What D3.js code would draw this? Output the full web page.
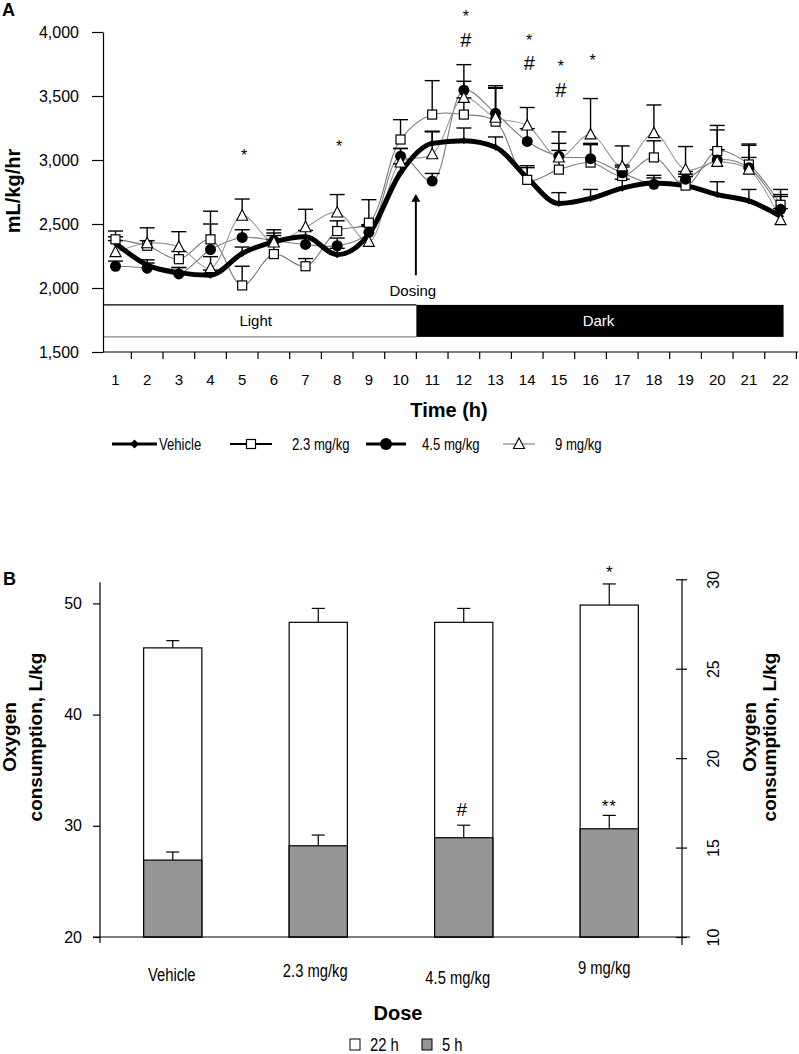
<!DOCTYPE html>
<html><head><meta charset="utf-8">
<script src="https://cdn.jsdelivr.net/npm/d3@7"></script>
<style>body{margin:0;background:#fff}svg{display:block}</style>
</head><body>
<script>
// ---------- Panel A data ----------
const hours = [1,2,3,4,5,6,7,8,9,10,11,12,13,14,15,16,17,18,19,20,21,22];
const vehicle    = [2350,2180,2120,2100,2270,2360,2400,2260,2420,2900,3130,3150,3100,2860,2660,2700,2780,2820,2800,2730,2680,2560];
const vehicleSem = [50,40,40,40,50,50,50,50,60,70,90,100,80,80,85,70,70,60,70,100,90,60];
const dose23     = [2380,2330,2225,2380,2020,2265,2170,2445,2510,3160,3355,3355,3300,2845,2925,2980,2875,3020,2800,3070,2965,2650];
const dose23Sem  = [65,40,60,220,150,110,60,80,180,155,265,130,260,110,150,150,70,130,90,200,150,120];
const dose45     = [2170,2155,2110,2300,2395,2370,2340,2330,2435,3030,2835,3545,3365,3145,3030,3010,2900,2810,2850,3000,2940,2615];
const dose45Sem  = [40,40,50,200,60,60,60,60,60,60,60,200,200,100,100,110,60,50,60,80,80,100];
const dose9      = [2280,2350,2320,2155,2565,2355,2475,2590,2360,2980,3045,3485,3330,3270,3020,3200,2950,3210,2925,2985,2925,2530];
const dose9Sem   = [90,120,120,90,130,100,140,140,130,110,180,130,250,140,200,280,160,220,180,250,200,200];
const yTicksA = [1500,2000,2500,3000,3500,4000];
const seriesNamesA = ["Vehicle","2.3 mg/kg","4.5 mg/kg","9 mg/kg"];
const annoHours = [5,8,12,12,14,14,15,15,16];
const annoText  = ["*","*","*","#","*","#","*","#","*"];
const annoLevel = [3065,3135,4148,3937,3961,3758,3758,3547,3805];

// ---------- Panel B data ----------
const doses = ["Vehicle","2.3 mg/kg","4.5 mg/kg","9 mg/kg"];
const total22h    = [46.0,48.3,48.3,49.85];
const total22hSem = [0.65,1.25,1.25,1.9];
const early5h     = [14.3,15.1,15.55,16.05];
const early5hSem  = [0.45,0.6,0.7,0.75];
const yTicksBLeft  = [20,30,40,50];
const yTicksBRight = [10,15,20,25,30];
const legendB = ["22 h","5 h"];

const W = 799, H = 1054;
const FONT = "'Liberation Sans', Arial, Helvetica, sans-serif";
const svg = d3.select("body").append("svg").attr("width", W).attr("height", H)
  .style("font-family", FONT);

// condense text like Arial Narrow
function narrow(sel, f = 0.82) {
  sel.each(function() {
    const len = this.getComputedTextLength();
    d3.select(this).attr("textLength", len * f).attr("lengthAdjust", "spacingAndGlyphs");
  });
}

// ================= PANEL A =================
const step = 31.67;
const xA = d3.scaleBand().domain(hours).range([115.5 - step/2, 115.5 + 21*step + step/2]).padding(0);
const xc = h => xA(h) + xA.bandwidth()/2;
const yA = d3.scaleLinear().domain([1500,4000]).range([352,32]);

svg.append("text").attr("x",2).attr("y",16).attr("font-weight","bold").attr("font-size",18).text("A");

// Light / Dark bars
const barTop = yA(1868), barBot = yA(1618);
const boundary = xA(11);
svg.append("rect").attr("x",103).attr("y",barTop).attr("width",boundary-103).attr("height",barBot-barTop)
  .attr("fill","#fff");
svg.append("line").attr("x1",103).attr("x2",boundary).attr("y1",barTop).attr("y2",barTop).attr("stroke","#000").attr("stroke-width",1.2);
svg.append("line").attr("x1",103).attr("x2",boundary).attr("y1",barBot).attr("y2",barBot).attr("stroke","#888").attr("stroke-width",1.2);
svg.append("rect").attr("x",boundary).attr("y",barTop).attr("width",xc(22)+3-boundary).attr("height",barBot-barTop)
  .attr("fill","#000");
svg.append("text").attr("x",(103+boundary)/2-4).attr("y",(barTop+barBot)/2+5).attr("text-anchor","middle")
  .attr("font-size",15).text("Light");
svg.append("text").attr("x",(boundary+xc(22))/2).attr("y",(barTop+barBot)/2+5).attr("text-anchor","middle")
  .attr("font-size",15).attr("fill","#fff").text("Dark");

// y axis
const gyA = svg.append("g").attr("transform","translate(103,0)")
  .call(d3.axisLeft(yA).tickValues(yTicksA).tickFormat(d3.format(",")).tickSize(11).tickPadding(13).tickSizeOuter(0));
gyA.selectAll("text").attr("font-size",16).attr("font-family",FONT).attr("fill","#000");
gyA.selectAll("line,path").attr("stroke","#000").attr("stroke-width",1.2);

// x axis
svg.append("line").attr("x1",103).attr("x2",798).attr("y1",352).attr("y2",352).attr("stroke","#000").attr("stroke-width",1.2);
svg.append("g").selectAll("line").data(hours).join("line")
  .attr("x1",h=>xA(h)+xA.bandwidth()).attr("x2",h=>xA(h)+xA.bandwidth())
  .attr("y1",352).attr("y2",359).attr("stroke","#000").attr("stroke-width",1.2);
const gxA = svg.append("g").attr("transform","translate(0,352)")
  .call(d3.axisBottom(xA).tickSize(0).tickPadding(22));
gxA.select(".domain").remove();
gxA.selectAll("text").attr("font-size",15).attr("font-family",FONT).attr("fill","#000");

svg.append("text").attr("x",449).attr("y",417).attr("text-anchor","middle").attr("font-weight","bold")
  .attr("font-size",20).text("Time (h)");
svg.append("text").attr("transform","translate(20,191) rotate(-90)").attr("text-anchor","middle")
  .attr("font-weight","bold").attr("font-size",20).text("mL/kg/hr");

// Dosing arrow
const ax = boundary - 0.5;
svg.append("line").attr("x1",ax).attr("x2",ax).attr("y1",yA(2100)).attr("y2",yA(2690)).attr("stroke","#000").attr("stroke-width",2);
svg.append("path").attr("d",`M${ax-4.5},${yA(2690)+2}L${ax},${yA(2735)}L${ax+4.5},${yA(2690)+2}Z`).attr("fill","#000");
svg.append("text").attr("x",ax-3).attr("y",yA(1935)).attr("text-anchor","middle").attr("font-size",15).text("Dosing");

// series
const series = [
  {name:seriesNamesA[0], v:vehicle, s:vehicleSem, stroke:"#000", sw:5, marker:"diamond", curve:d3.curveMonotoneX},
  {name:seriesNamesA[1], v:dose23, s:dose23Sem, stroke:"#7a7a7a", sw:1.1, marker:"square", curve:d3.curveCatmullRom.alpha(0.5)},
  {name:seriesNamesA[2], v:dose45, s:dose45Sem, stroke:"#7a7a7a", sw:1.1, marker:"circle", curve:d3.curveCatmullRom.alpha(0.5)},
  {name:seriesNamesA[3], v:dose9, s:dose9Sem, stroke:"#9a9a9a", sw:1.1, marker:"triangle", curve:d3.curveCatmullRom.alpha(0.5)}
];
const lineGen = (vals, curve) => d3.line().x((d,i)=>xc(hours[i])).y(d=>yA(d)).curve(curve)(vals);

function drawMarker(g, type, x, y, legend) {
  if (type==="diamond") {
    const r = legend?4.5:3.5;
    g.append("path").attr("d",`M${x},${y-r}L${x+r},${y}L${x},${y+r}L${x-r},${y}Z`).attr("fill","#000");
  } else if (type==="square") {
    g.append("rect").attr("x",x-4.5).attr("y",y-4.5).attr("width",9).attr("height",9)
      .attr("fill","#fff").attr("stroke","#000").attr("stroke-width",1.2);
  } else if (type==="circle") {
    g.append("circle").attr("cx",x).attr("cy",y).attr("r",legend?6:5.5).attr("fill","#000");
  } else {
    g.append("path").attr("d",`M${x},${y-6}L${x+5.5},${y+4.5}L${x-5.5},${y+4.5}Z`)
      .attr("fill","#fff").attr("stroke","#000").attr("stroke-width",1.1);
  }
}

const gLines = svg.append("g");
[1,2,3,0].forEach(k => {
  const s = series[k];
  gLines.append("path").attr("d",lineGen(s.v, s.curve)).attr("fill","none").attr("stroke",s.stroke).attr("stroke-width",s.sw);
});
const gErr = svg.append("g").attr("stroke","#000").attr("stroke-width",1.4);
series.forEach(s => {
  s.v.forEach((v,i) => {
    const x = xc(hours[i]);
    gErr.append("line").attr("x1",x).attr("x2",x).attr("y1",yA(v)).attr("y2",yA(v+s.s[i]));
    gErr.append("line").attr("x1",x-7.5).attr("x2",x+7.5).attr("y1",yA(v+s.s[i])).attr("y2",yA(v+s.s[i]));
  });
});
const gMk = svg.append("g");
series.forEach(s => s.v.forEach((v,i) => drawMarker(gMk, s.marker, xc(hours[i]), yA(v))));

// annotations
annoHours.forEach((h,i) => {
  const isStar = annoText[i]==="*";
  svg.append("text").attr("x",xc(h)+2).attr("y",yA(annoLevel[i]) + (isStar?9:7))
    .attr("text-anchor","middle").attr("font-size",isStar?16:20).text(annoText[i]);
});

// legend A
const legA = [
  {x1:112,x2:157,tx:159,stroke:"#000",sw:3},
  {x1:230,x2:272,tx:292,stroke:"#000",sw:2},
  {x1:366,x2:406,tx:422,stroke:"#000",sw:3},
  {x1:503,x2:535,tx:555,stroke:"#888",sw:1.2}
];
const gLegA = svg.append("g");
legA.forEach((l,i) => {
  gLegA.append("line").attr("x1",l.x1).attr("x2",l.x2).attr("y1",444).attr("y2",444).attr("stroke",l.stroke).attr("stroke-width",l.sw);
  drawMarker(gLegA, series[i].marker, (l.x1+l.x2)/2, 444, true);
  gLegA.append("text").attr("x",l.tx).attr("y",449.5).attr("font-size",16).text(seriesNamesA[i]).call(narrow);
});

// ================= PANEL B =================
svg.append("text").attr("x",3).attr("y",585).attr("font-weight","bold").attr("font-size",18).text("B");
const xB = d3.scaleBand().domain(doses).range([100,682]).paddingInner(0.6).paddingOuter(0.3);
const yL = d3.scaleLinear().domain([20,50]).range([937,603.4]);
const yR = d3.scaleLinear().domain([10,30]).range([937,579.3]);

const gB = svg.append("g");
doses.forEach((d,i) => {
  gB.append("rect").attr("x",xB(d)).attr("y",yL(total22h[i])).attr("width",xB.bandwidth())
    .attr("height",yL(20)-yL(total22h[i])).attr("fill","#fff").attr("stroke","#000").attr("stroke-width",1.2);
  gB.append("rect").attr("x",xB(d)).attr("y",yR(early5h[i])).attr("width",xB.bandwidth())
    .attr("height",yR(10)-yR(early5h[i])).attr("fill","#969696").attr("stroke","#000").attr("stroke-width",1.2);
  const cx = xB(d)+xB.bandwidth()/2;
  [[yL(total22h[i]), yL(total22h[i]+total22hSem[i])],[yR(early5h[i]), yR(early5h[i]+early5hSem[i])]].forEach(([a,b]) => {
    gB.append("line").attr("x1",cx).attr("x2",cx).attr("y1",a).attr("y2",b).attr("stroke","#000").attr("stroke-width",1.2);
    gB.append("line").attr("x1",cx-6.5).attr("x2",cx+6.5).attr("y1",b).attr("y2",b).attr("stroke","#000").attr("stroke-width",1.2);
  });
});
const cxB = d => xB(d)+xB.bandwidth()/2;
svg.append("text").attr("x",cxB(doses[3])).attr("y",yL(total22h[3]+total22hSem[3])).attr("dy",-6)
  .attr("text-anchor","middle").attr("font-size",17).text("*");
svg.append("text").attr("x",cxB(doses[2])-2).attr("y",yR(early5h[2]+early5hSem[2])-9)
  .attr("text-anchor","middle").attr("font-size",19).text("#");
svg.append("text").attr("x",cxB(doses[3])).attr("y",yR(early5h[3]+early5hSem[3])-3)
  .attr("text-anchor","middle").attr("font-size",17).attr("letter-spacing",1).text("**");

// left axis
const gyL = svg.append("g").attr("transform","translate(100,0)")
  .call(d3.axisLeft(yL).tickValues(yTicksBLeft).tickSize(7).tickPadding(11));
gyL.select(".domain").remove();
gyL.selectAll("text").attr("font-size",16).attr("font-family",FONT).attr("fill","#000");
gyL.selectAll("line").attr("stroke","#000").attr("stroke-width",1.2);
svg.append("line").attr("x1",100).attr("x2",100).attr("y1",943).attr("y2",yL(51.9)).attr("stroke","#000").attr("stroke-width",1.2);

// right axis
const gyR = svg.append("g").attr("transform","translate(682,0)")
  .call(d3.axisRight(yR).tickValues(yTicksBRight).tickSize(5));
gyR.select(".domain").remove();
gyR.selectAll("line").attr("x1",-6).attr("x2",5).attr("stroke","#000").attr("stroke-width",1.2);
gyR.selectAll("text").attr("x",0).attr("dy",0).attr("transform","translate(37,0) rotate(-90)")
  .attr("text-anchor","middle").attr("font-size",16).attr("font-family",FONT).attr("fill","#000");
svg.append("line").attr("x1",682).attr("x2",682).attr("y1",945).attr("y2",yR(30)).attr("stroke","#000").attr("stroke-width",1.2);

// baseline
svg.append("line").attr("x1",93).attr("x2",690).attr("y1",yL(20)).attr("y2",yL(20)).attr("stroke","#000").attr("stroke-width",1.2);

// x labels B
const labelShift = [[-1,0],[-3,-4],[-6,3],[-5,-7]];
const gxB = svg.append("g").attr("transform","translate(0,937)")
  .call(d3.axisBottom(xB).tickSize(0).tickPadding(0));
gxB.select(".domain").remove();
gxB.selectAll("text").attr("dy",0).attr("font-size",18).attr("font-family",FONT).attr("fill","#000")
  .attr("x",(d,i)=>labelShift[i][0]).attr("y",(d,i)=>44+labelShift[i][1]).call(narrow);

svg.append("text").attr("x",398).attr("y",1020).attr("text-anchor","middle").attr("font-weight","bold")
  .attr("font-size",20).text("Dose");

// titles B
function yTitle(x1, x2) {
  const t = svg.append("text").attr("text-anchor","middle").attr("font-weight","bold").attr("font-size",19);
  t.append("tspan").attr("x",0).attr("y",0).text("Oxygen");
  t.append("tspan").attr("x",0).attr("y",x2-x1).text("consumption, L/kg");
  t.attr("transform",`translate(${x1},737) rotate(-90)`);
}
yTitle(16, 42);
yTitle(756, 776);

// legend B
const gLegB = svg.append("g");
gLegB.append("rect").attr("x",350).attr("y",1039).attr("width",10).attr("height",11).attr("fill","#fff").attr("stroke","#000");
gLegB.append("text").attr("x",370).attr("y",1051).attr("font-size",18).text(legendB[0]).call(narrow);
gLegB.append("rect").attr("x",422).attr("y",1039).attr("width",10).attr("height",11).attr("fill","#969696").attr("stroke","#000");
gLegB.append("text").attr("x",442).attr("y",1051).attr("font-size",18).text(legendB[1]).call(narrow);
</script>
</body></html>
